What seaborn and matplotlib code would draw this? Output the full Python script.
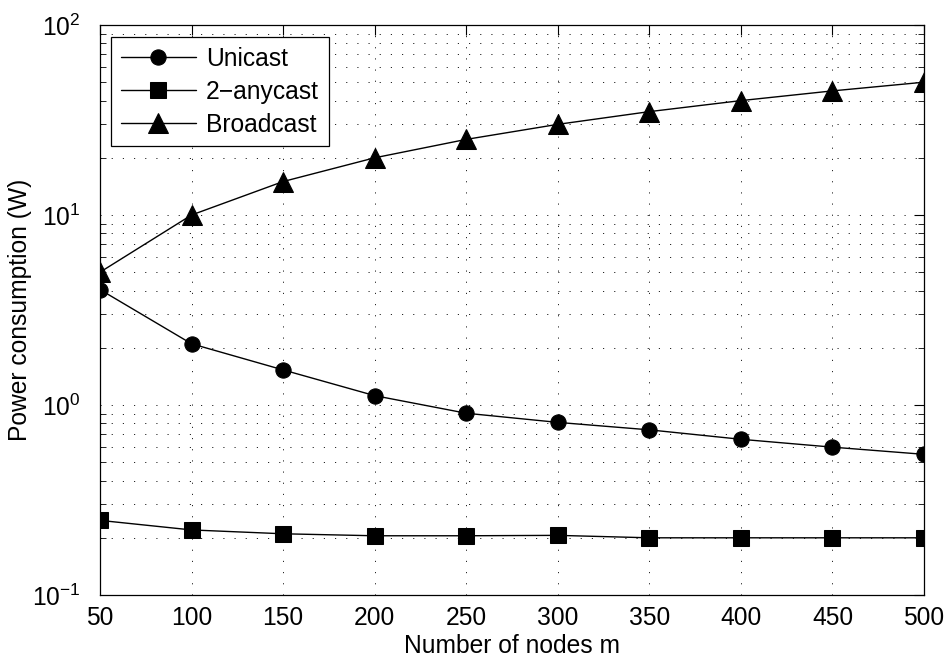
import matplotlib
matplotlib.use("Agg")
import matplotlib.pyplot as plt
import seaborn as sns
import pandas as pd
from matplotlib.ticker import LogLocator, NullFormatter, FixedLocator

# ---- data ----
nodes = [50, 100, 150, 200, 250, 300, 350, 400, 450, 500]
unicast = [4.05, 2.1, 1.53, 1.12, 0.905, 0.81, 0.74, 0.66, 0.60, 0.55]
anycast2 = [0.247, 0.22, 0.21, 0.205, 0.205, 0.206, 0.2, 0.2, 0.2, 0.2]
broadcast = [5, 10, 15, 20, 25, 30, 35, 40, 45, 50]
series_names = ["Unicast", "2\u2212anycast", "Broadcast"]
x_ticks = [50, 100, 150, 200, 250, 300, 350, 400, 450, 500]

sns.set_style("white")
FS = 17.7
plt.rcParams["font.family"] = ["Liberation Sans", "DejaVu Sans"]
plt.rcParams["mathtext.default"] = "regular"
plt.rcParams["font.size"] = FS
for k in ["text.color", "axes.labelcolor", "xtick.color", "ytick.color"]:
    plt.rcParams[k] = "black"

df = pd.DataFrame({
    "m": nodes * 3,
    "P": unicast + anycast2 + broadcast,
    "series": [series_names[0]] * len(nodes) + [series_names[1]] * len(nodes) + [series_names[2]] * len(nodes),
})

fig = plt.figure(figsize=(9.51, 6.59), dpi=100)
ax = fig.add_axes([100 / 951, 1 - 595 / 659, 824 / 951, 570 / 659])

markers = {series_names[0]: "o", series_names[1]: "s", series_names[2]: "^"}
sizes = {series_names[0]: 11, series_names[1]: 11, series_names[2]: 14}
for name in series_names:
    sub = df[df["series"] == name]
    sns.lineplot(data=sub, x="m", y="P", ax=ax, color="black", linewidth=1.0,
                 marker=markers[name], markersize=sizes[name], markeredgecolor="black",
                 markerfacecolor="black", label=name, zorder=3)

ax.set_yscale("log")
ax.set_xlim(50, 500)
ax.set_ylim(0.1, 100)
ax.xaxis.set_major_locator(FixedLocator(x_ticks))
ax.yaxis.set_major_locator(LogLocator(base=10, numticks=10))
ax.yaxis.set_minor_locator(LogLocator(base=10, subs=range(2, 10), numticks=20))
ax.yaxis.set_minor_formatter(NullFormatter())

gridstyle = dict(color="black", linewidth=0.6, linestyle=(0, (1.4, 12)))
ax.xaxis.grid(True, which="major", **gridstyle)
ax.yaxis.grid(True, which="both", **gridstyle)

ax.tick_params(axis="both", which="major", direction="in", length=7, width=0.8,
               top=True, right=True, labelsize=FS, color="black", labelcolor="black")
ax.tick_params(axis="x", which="major", pad=8)
ax.tick_params(axis="y", which="major", pad=14)
ax.tick_params(axis="y", which="minor", direction="in", length=4, width=0.6, right=True, left=True)

for sp in ax.spines.values():
    sp.set_color("black")
    sp.set_linewidth(0.9)

ax.set_xlabel("Number of nodes m", fontsize=FS, labelpad=3)
ax.set_ylabel("Power consumption (W)", fontsize=FS, labelpad=0)

leg = ax.legend(loc="upper left", bbox_to_anchor=(11 / 824, 1 - 12 / 570), frameon=True,
                fancybox=False, shadow=False, edgecolor="black", framealpha=1,
                fontsize=FS, handlelength=3.05, handletextpad=0.42,
                borderpad=0.4, labelspacing=0.36, borderaxespad=0)
leg.get_frame().set_linewidth(0.9)

fig.savefig("out.png", dpi=100)
